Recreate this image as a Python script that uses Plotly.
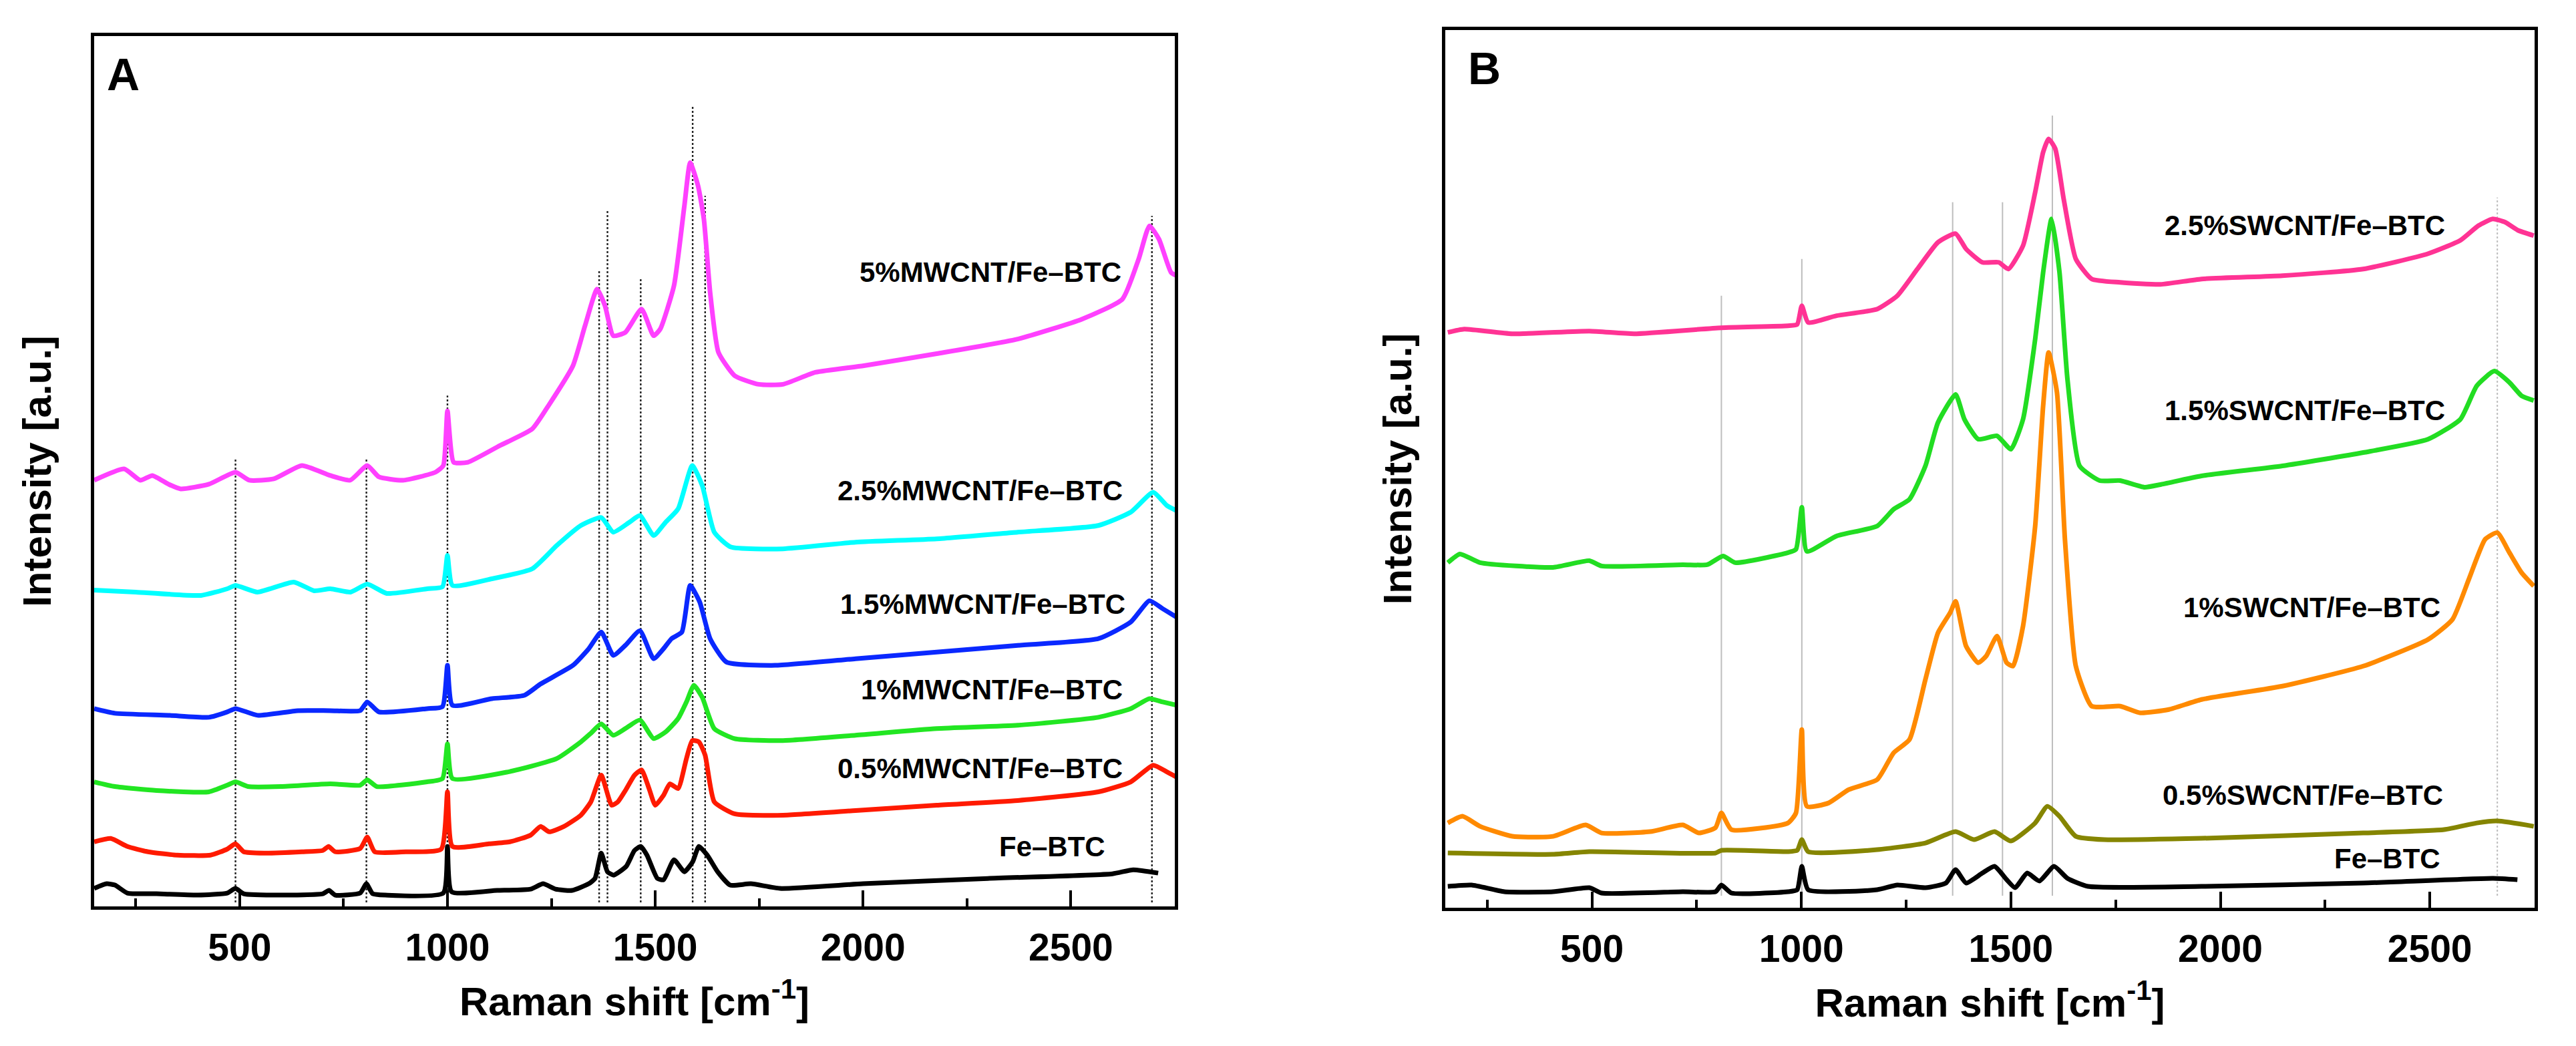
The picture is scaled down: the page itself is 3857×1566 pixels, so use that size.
import plotly.graph_objects as go

# ---------------- Panel A : MWCNT/Fe-BTC ----------------
A_FE_X = [150, 180, 200, 230, 300, 400, 470, 490, 510, 600, 700, 715, 730, 790, 805, 820, 850, 990, 1000, 1010,
          1120, 1200, 1230, 1260, 1300, 1340, 1355, 1370, 1385, 1400, 1430, 1450, 1465, 1480, 1505, 1520, 1545,
          1570, 1590, 1605, 1625, 1650, 1680, 1730, 1800, 2000, 2300, 2600, 2650, 2710]
A_FE_Y = [27, 34, 32, 20, 19, 17, 20, 27, 19, 17, 19, 24, 17, 20, 34, 19, 17, 20, 90, 22,
          24, 26, 34, 26, 24, 34, 42, 80, 52, 47, 60, 84, 90, 77, 42, 40, 70,
          52, 67, 90, 77, 52, 32, 34, 27, 34, 42, 49, 55, 50]

A_05_X = [150, 190, 230, 280, 350, 430, 470, 490, 510, 560, 650, 700, 714, 730, 790, 807, 825, 900, 985, 1000,
          1012, 1100, 1150, 1200, 1224, 1245, 1280, 1321, 1345, 1370, 1395, 1410, 1428, 1450, 1467, 1485, 1500,
          1520, 1535, 1555, 1575, 1589, 1605, 1620, 1642, 1691, 1807, 1982, 2177, 2372, 2566, 2644, 2698, 2731, 2755]
A_05_Y = [97, 102, 90, 82, 77, 77, 86, 94, 82, 80, 82, 84, 90, 82, 87, 104, 82, 82, 86, 172,
          90, 94, 97, 107, 120, 112, 120, 137, 157, 197, 152, 157, 174, 197, 205, 177, 152,
          167, 184, 177, 222, 249, 247, 227, 157, 139, 137, 144, 152, 159, 172, 187, 212, 202, 194]

A_1_X = [150, 200, 300, 426, 470, 490, 520, 600, 718, 790, 807, 830, 951, 988, 1000, 1012, 1146, 1263, 1321,
         1345, 1370, 1399, 1428, 1463, 1496, 1525, 1555, 1575, 1593, 1613, 1642, 1691, 1807, 1982, 2177, 2372,
         2566, 2644, 2689, 2721, 2755]
A_1_Y = [187, 180, 174, 172, 182, 187, 180, 180, 184, 182, 190, 180, 187, 192, 244, 192, 202, 222, 247,
         260, 274, 257, 267, 280, 252, 262, 282, 307, 332, 314, 267, 252, 249, 257, 267, 272,
         284, 297, 312, 307, 302]

A_15_X = [150, 200, 329, 426, 470, 490, 543, 640, 718, 790, 807, 835, 951, 988, 1000, 1012, 1107, 1185, 1224,
          1302, 1340, 1370, 1399, 1428, 1463, 1496, 1520, 1539, 1564, 1584, 1607, 1632, 1671, 1788, 1982, 2177,
          2372, 2566, 2644, 2689, 2721, 2755]
A_15_Y = [297, 290, 287, 284, 292, 297, 287, 294, 294, 294, 307, 292, 297, 300, 362, 302, 312, 317, 334,
          362, 387, 412, 377, 392, 414, 372, 387, 402, 412, 482, 457, 402, 367, 362, 372, 382,
          392, 402, 427, 459, 447, 434]

A_25_X = [150, 250, 407, 470, 490, 543, 630, 679, 718, 767, 807, 854, 951, 988, 1000, 1012, 1107, 1204, 1263,
          1321, 1370, 1399, 1438, 1463, 1496, 1525, 1555, 1589, 1613, 1642, 1681, 1807, 1982, 2177, 2372, 2566,
          2644, 2698, 2731, 2755]
A_25_Y = [475, 472, 467, 477, 482, 472, 487, 474, 477, 472, 484, 470, 477, 480, 527, 482, 492, 507, 542,
          572, 584, 562, 577, 587, 557, 577, 597, 662, 632, 562, 540, 537, 547, 552, 562, 572,
          592, 622, 602, 594]

A_5_X = [150, 222, 261, 290, 329, 358, 426, 490, 523, 582, 650, 718, 766, 807, 835, 893, 971, 990, 1000, 1015,
         1049, 1126, 1204, 1243, 1302, 1331, 1360, 1379, 1399, 1428, 1467, 1496, 1512, 1545, 1570, 1584, 1603,
         1617, 1632, 1652, 1691, 1749, 1807, 1885, 2002, 2177, 2372, 2527, 2624, 2663, 2689, 2712, 2741, 2755]
A_5_Y = [640, 657, 640, 647, 634, 627, 634, 652, 640, 642, 662, 647, 640, 662, 645, 640, 652, 662, 744, 667,
         667, 692, 717, 752, 812, 872, 927, 902, 857, 862, 897, 857, 867, 932, 1052, 1117, 1082,
         1032, 922, 832, 797, 784, 784, 802, 812, 830, 852, 882, 912, 972, 1022, 1002, 952, 947]

A_NAMES = ["Fe–BTC", "0.5%MWCNT/Fe–BTC", "1%MWCNT/Fe–BTC", "1.5%MWCNT/Fe–BTC",
           "2.5%MWCNT/Fe–BTC", "5%MWCNT/Fe–BTC"]
A_COLORS = ["#000000", "#FF1A00", "#22E622", "#0A28FF", "#00FFFF", "#FF40FF"]
A_LABEL_X = [2586, 2628, 2628, 2634, 2628, 2625]
A_LABEL_Y = [90, 207, 325, 454, 624, 952]
A_REF_X = [490, 805, 1000, 1365, 1385, 1465, 1590, 1620, 2695]
A_REF_TOP = [672, 672, 767, 954, 1047, 942, 1202, 1067, 1037]
A_REF_BOTTOM = 6

# ---------------- Panel B : SWCNT/Fe-BTC ----------------
B_FE_X = [156, 213, 291, 407, 494, 523, 717, 795, 809, 833, 968, 990, 1001, 1016, 1181, 1229, 1296, 1345, 1368,
          1393, 1432, 1461, 1490, 1510, 1539, 1568, 1603, 1635, 1684, 1955, 2341, 2651, 2709]
B_FE_Y = [32, 34, 24, 24, 30, 22, 24, 24, 34, 22, 24, 27, 62, 27, 27, 34, 30, 37, 57,
          37, 52, 62, 42, 30, 52, 40, 62, 44, 32, 32, 37, 44, 42]

B_05_X = [156, 407, 494, 795, 809, 968, 990, 1001, 1016, 1181, 1296, 1368, 1412, 1461, 1500, 1558, 1587, 1616,
          1655, 1722, 1955, 2341, 2534, 2612, 2661, 2748]
B_05_Y = [82, 80, 84, 82, 86, 84, 86, 102, 84, 87, 97, 114, 102, 114, 100, 127, 152, 137,
          107, 102, 104, 112, 117, 127, 130, 122]

B_1_X = [156, 191, 233, 310, 407, 485, 523, 639, 717, 755, 795, 809, 833, 968, 987, 1001, 1013, 1065, 1113,
         1181, 1220, 1258, 1296, 1326, 1355, 1368, 1393, 1422, 1441, 1467, 1490, 1505, 1529, 1558, 1577, 1590,
         1610, 1629, 1655, 1693, 1761, 1809, 1877, 1955, 2148, 2341, 2496, 2554, 2593, 2632, 2661, 2690, 2719, 2748]
B_1_Y = [127, 137, 122, 107, 107, 124, 112, 114, 124, 112, 120, 142, 117, 127, 142, 267, 152, 157, 177,
         192, 232, 252, 342, 412, 442, 459, 392, 367, 377, 407, 367, 362, 422, 572, 752, 832,
         772, 552, 362, 302, 302, 292, 297, 312, 332, 362, 402, 432, 492, 552, 562, 532, 502, 482]

B_15_X = [156, 185, 233, 407, 494, 523, 717, 775, 813, 842, 968, 987, 1001, 1013, 1084, 1181, 1220, 1258, 1296,
          1326, 1368, 1389, 1422, 1467, 1500, 1529, 1558, 1577, 1597, 1616, 1635, 1664, 1712, 1761, 1819, 1857,
          1955, 2148, 2341, 2496, 2573, 2612, 2654, 2690, 2719, 2748]
B_15_Y = [517, 530, 517, 510, 520, 512, 514, 514, 527, 517, 532, 537, 600, 534, 557, 572, 597, 612, 662,
          727, 769, 732, 702, 707, 687, 732, 852, 952, 1032, 952, 792, 662, 640, 640, 630, 634,
          647, 662, 682, 702, 732, 782, 804, 787, 767, 760]

B_25_X = [156, 195, 310, 494, 601, 809, 968, 990, 1001, 1016, 1084, 1181, 1229, 1277, 1326, 1368, 1393, 1432,
          1471, 1494, 1529, 1558, 1577, 1590, 1606, 1626, 1655, 1693, 1761, 1857, 1955, 2148, 2341, 2496, 2573,
          2616, 2650, 2680, 2710, 2748]
B_25_Y = [862, 867, 860, 864, 860, 869, 872, 874, 902, 877, 887, 897, 917, 957, 997, 1010, 987, 967,
          967, 957, 992, 1072, 1132, 1152, 1137, 1062, 972, 942, 937, 934, 942, 947, 957, 980, 1000,
          1022, 1032, 1027, 1015, 1007]

B_NAMES = ["Fe–BTC", "0.5%SWCNT/Fe–BTC", "1%SWCNT/Fe–BTC", "1.5%SWCNT/Fe–BTC", "2.5%SWCNT/Fe–BTC"]
B_COLORS = ["#000000", "#858500", "#FF8A00", "#22DD22", "#FF3394"]
B_LABEL_X = [2529, 2535, 2529, 2539, 2539]
B_LABEL_Y = [74, 169, 450, 745, 1022]
B_REF_X = [809, 1001, 1361, 1480, 1599, 2661]
B_REF_TOP = [917, 972, 1057, 1057, 1187, 1064]
B_REF_DASH = ["solid", "solid", "solid", "solid", "solid", "dot"]
B_REF_BOTTOM = 18

X_RANGE = [150, 2750]
A_Y_RANGE = [0, 1307]
B_Y_RANGE = [0, 1315]
X_TICKS = [500, 1000, 1500, 2000, 2500]

FONT = "Liberation Sans, Arial, Helvetica, sans-serif"

A_SERIES = [(A_FE_X, A_FE_Y), (A_05_X, A_05_Y), (A_1_X, A_1_Y), (A_15_X, A_15_Y), (A_25_X, A_25_Y), (A_5_X, A_5_Y)]
B_SERIES = [(B_FE_X, B_FE_Y), (B_05_X, B_05_Y), (B_1_X, B_1_Y), (B_15_X, B_15_Y), (B_25_X, B_25_Y)]

fig = go.Figure()

# reference lines (drawn first so they sit under the spectra)
for xv, top in zip(A_REF_X, A_REF_TOP):
    fig.add_trace(go.Scatter(x=[xv, xv], y=[A_REF_BOTTOM, top], mode="lines", xaxis="x", yaxis="y",
                             line=dict(color="#222222", width=2.4, dash="dot"), showlegend=False, hoverinfo="skip"))
for xv, top, d in zip(B_REF_X, B_REF_TOP, B_REF_DASH):
    fig.add_trace(go.Scatter(x=[xv, xv], y=[B_REF_BOTTOM, top], mode="lines", xaxis="x2", yaxis="y2",
                             line=dict(color="#BDBDBD", width=2, dash=d), showlegend=False, hoverinfo="skip"))

for (xs, ys), name, col in zip(A_SERIES, A_NAMES, A_COLORS):
    fig.add_trace(go.Scatter(x=xs, y=ys, mode="lines", name=name, xaxis="x", yaxis="y",
                             line=dict(color=col, width=7, shape="spline", smoothing=0.5), showlegend=False))
for (xs, ys), name, col in zip(B_SERIES, B_NAMES, B_COLORS):
    fig.add_trace(go.Scatter(x=xs, y=ys, mode="lines", name=name, xaxis="x2", yaxis="y2",
                             line=dict(color=col, width=7, shape="spline", smoothing=0.5), showlegend=False))

annotations = []
for name, lx, ly in zip(A_NAMES, A_LABEL_X, A_LABEL_Y):
    annotations.append(dict(x=lx, y=ly, xref="x", yref="y", text=name, showarrow=False,
                            xanchor="right", yanchor="middle", font=dict(size=42, color="black", family=FONT, weight="bold")))
for name, lx, ly in zip(B_NAMES, B_LABEL_X, B_LABEL_Y):
    annotations.append(dict(x=lx, y=ly, xref="x2", yref="y2", text=name, showarrow=False,
                            xanchor="right", yanchor="middle", font=dict(size=42, color="black", family=FONT, weight="bold")))
annotations.append(dict(x=0.027, y=0.956, xref="x domain", yref="y domain", text="A", showarrow=False,
                        xanchor="center", yanchor="middle", font=dict(size=68, color="black", family=FONT, weight="bold")))
annotations.append(dict(x=0.036, y=0.957, xref="x2 domain", yref="y2 domain", text="B", showarrow=False,
                        xanchor="center", yanchor="middle", font=dict(size=68, color="black", family=FONT, weight="bold")))


def xaxis_cfg(domain, anchor):
    return dict(domain=domain, anchor=anchor, range=X_RANGE, tickmode="array", tickvals=X_TICKS,
                ticktext=[str(v) for v in X_TICKS], ticks="inside", ticklen=24, tickwidth=4, tickcolor="black",
                minor=dict(dtick=250, tick0=0, ticks="inside", ticklen=12, tickwidth=4, tickcolor="black"),
                showline=True, linewidth=5, linecolor="black", mirror=True, showgrid=False, zeroline=False,
                tickfont=dict(size=57, family=FONT, color="black", weight="bold"), ticklabelstandoff=8,
                title=dict(text="Raman shift [cm<sup>-1</sup>]", standoff=30,
                           font=dict(size=60, family=FONT, color="black", weight="bold")))


def yaxis_cfg(domain, anchor, rng, standoff):
    return dict(domain=domain, anchor=anchor, range=rng, showticklabels=False, ticks="",
                showline=True, linewidth=5, linecolor="black", mirror=True, showgrid=False, zeroline=False,
                title=dict(text="Intensity [a.u.]", standoff=standoff,
                           font=dict(size=60, family=FONT, color="black", weight="bold")))


fig.update_layout(
    width=3857, height=1566, autosize=False,
    margin=dict(l=0, r=0, t=0, b=0),
    paper_bgcolor="white", plot_bgcolor="white",
    font=dict(family=FONT, color="black"),
    xaxis=xaxis_cfg([133 / 3857, 1751 / 3857], "y"),
    yaxis=yaxis_cfg([1 - 1349 / 1566, 1 - 46 / 1566], "x", A_Y_RANGE, 42),
    xaxis2=xaxis_cfg([2156 / 3857, 3787 / 3857], "y2"),
    yaxis2=yaxis_cfg([1 - 1351 / 1566, 1 - 37 / 1566], "x2", B_Y_RANGE, 28),
    annotations=annotations,
    showlegend=False,
)

fig.write_html("out.html")
